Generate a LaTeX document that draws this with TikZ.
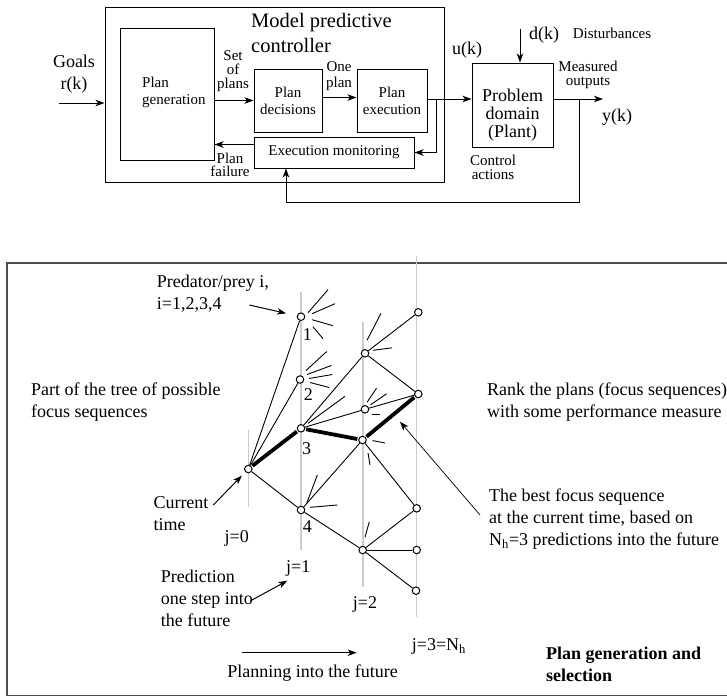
\documentclass[tikz,border=0pt]{standalone}
\usepackage{fontspec}
\setmainfont{Liberation Serif}
\usetikzlibrary{arrows.meta}

\tikzset{
  caja/.style={draw, line width=1pt, inner sep=0pt},
  txtp/.style={font=\fontsize{15}{17}\selectfont, align=center, inner sep=0pt},
  txtm/.style={font=\fontsize{18}{18}\selectfont, align=center, inner sep=0pt},
  txtg/.style={font=\fontsize{18}{22}\selectfont, align=left, inner sep=0pt},
  flecha/.style={line width=1pt, -{Stealth[length=9pt,width=6.5pt,inset=2.5pt]}},
  nodo/.style={circle, draw, line width=1pt, fill=white, minimum size=7.5pt, inner sep=0pt},
  guia/.style={black!20, line width=1.5pt},
  rama/.style={line width=0.9pt},
  mejor/.style={line width=3.8pt, shorten <=1pt, shorten >=1pt},
}

\begin{document}
\begin{tikzpicture}[x=1pt, y=-1pt]
    \useasboundingbox (0,0) rectangle (727,697);

    % controlador predictivo
    \node[caja, minimum width=339pt, minimum height=175pt] (mpc) at (274.5,94.5) {};
    \node[font=\fontsize{20.5}{25}\selectfont, align=left, anchor=west, inner sep=0pt] (titulo) at (251,32.5) {Model predictive\\controller};

    % bloques internos
    \node[caja, minimum width=94pt, minimum height=132pt] (plangen) at (167,94) {};
    \node[txtp, align=left, anchor=west] (plangenlbl) at (142,92) {Plan\\generation};
    \node[caja, txtp, minimum width=68pt, minimum height=63pt] (plandec) at (288,100.5) {Plan\\decisions};
    \node[caja, txtp, minimum width=70pt, minimum height=63pt] (planexec) at (392,100.5) {Plan\\execution};
    \node[caja, txtp, minimum width=160pt, minimum height=31pt] (execmon) at (334,152.5) {Execution monitoring};

    % planta
    \node[caja, minimum width=81pt, minimum height=84pt] (plant) at (512.5,105) {};
    \node[txtm] (plantlbl) at (512.5,115) {Problem\\domain\\(Plant)};

    % leyendas de arriba
    \node[txtm, font=\fontsize{18}{22}\selectfont] (goals) at (74,74) {Goals\\r(k)};
    \node[txtp, font=\fontsize{15}{14}\selectfont] (setplans) at (233,71) {Set\\of\\plans};
    \node[txtp, font=\fontsize{15}{16.5}\selectfont] (oneplan) at (339,76) {One\\plan};
    \node[txtp, font=\fontsize{15}{13.5}\selectfont] (planfail) at (230,165) {Plan\\failure};
    \node[txtm] (uk) at (467,50) {u(k)};
    \node[txtm] (dk) at (544,35) {d(k)};
    \node[txtp] (dist) at (612,33) {Disturbances};
    \node[txtp, font=\fontsize{15}{13.5}\selectfont] (measout) at (588,75) {Measured\\outputs};
    \node[txtm] (yk) at (617,117) {y(k)};
    \node[txtp, font=\fontsize{15}{14}\selectfont] (ctrlact) at (493,167) {Control\\actions};

    % puntos de las flechas
    \coordinate (goalsin) at (59,103);
    \coordinate (ubranch) at (436,99);
    \coordinate (dkin) at (520,29);
    \coordinate (yout) at (603,99);
    \coordinate (ybranch) at (579,99);
    \coordinate (fbin) at (286,202);

    % flechas de arriba
    \draw[flecha] (goalsin) -- (goalsin -| mpc.west);
    \draw[flecha] (plangen.east |- plandec.west) -- (plandec.west);
    \draw[flecha] ([yshift=3pt]plandec.east) -- ([yshift=3pt]planexec.west);
    \draw[flecha] (planexec.east |- ubranch) -- (ubranch -| plant.west);
    \draw[flecha] (ubranch) |- (execmon.east);
    \draw[flecha] ([yshift=8pt]execmon.west) -- ([yshift=8pt]execmon.west -| plangen.east);
    \draw[flecha] (dkin) -- (dkin |- plant.north);
    \draw[flecha] (plant.east |- yout) -- (yout);
    \draw[flecha] (ybranch) |- (fbin) -- (fbin |- execmon.south);

    % marco de abajo
    \draw[black!70, line width=1.2pt] (727,263) -| (7,695.5) -- (727,695.5);

    % lineas grises j=0..3
    \draw[guia] (248.3,430) -- (248.3,507);
    \draw[guia] (301,291.7) -- (301,550);
    \draw[guia] (363,322) -- (363,587);
    \draw[guia] (416.5,256) -- (416.5,617);

    % nodos del arbol
    \node[nodo] (a0) at (248.3,469) {};
    \node[nodo] (b1) at (301,316.7) {};
    \node[nodo] (b2) at (300,379.5) {};
    \node[nodo] (b3) at (301,428.3) {};
    \node[nodo] (b4) at (301,510) {};
    \node[nodo] (c1) at (365,353.3) {};
    \node[nodo] (c2) at (365,409.3) {};
    \node[nodo] (c3) at (362.5,440) {};
    \node[nodo] (c4) at (362.7,550) {};
    \node[nodo] (d1) at (418.3,312.3) {};
    \node[nodo] (d2) at (418.3,394) {};
    \node[nodo] (d3) at (416.7,508.3) {};
    \node[nodo] (d4) at (416.7,550) {};
    \node[nodo] (d5) at (416,590.7) {};

    % ramas
    \draw[rama] (a0) -- (b1);
    \draw[rama] (a0) -- (b2);
    \draw[rama] (a0) -- (b4);
    \draw[rama] (b3) -- (c1);
    \draw[rama] (b3) -- (c2);
    \draw[rama] (b4) -- (c3);
    \draw[rama] (b4) -- (c4);
    \draw[rama] (c1) -- (d1);
    \draw[rama] (c1) -- (d2);
    \draw[rama] (c2) -- (d2);
    \draw[rama] (c3) -- (d3);
    \draw[rama] (c4) -- (d3);
    \draw[rama] (c4) -- (d4);
    \draw[rama] (c4) -- (d5);

    % mejor secuencia
    \draw[mejor] (a0) -- (b3);
    \draw[mejor] (b3) -- (c3);
    \draw[mejor] (c3) -- (d2);

    % ramas cortadas
    \draw[rama] (b1.center) ++(7,-4) -- ++(20,-23);
    \draw[rama] (b1.center) ++(11,-3) -- ++(23,-10);
    \draw[rama] (b1.center) ++(11,3) -- ++(21,6);
    \draw[rama] (b1.center) ++(12,10) -- ++(10,12);
    \draw[rama] (b2.center) ++(6,-9) -- ++(20.7,-19);
    \draw[rama] (b2.center) ++(7,-5) -- ++(24.4,-9);
    \draw[rama] (b2.center) ++(9,-1) -- ++(23.4,-4);
    \draw[rama] (b2.center) ++(10,3) -- ++(19.3,5);
    \draw[rama] (b3.center) ++(7,-5) -- ++(37,-27);
    \draw[rama] (b4.center) ++(5.7,-6.7) -- ++(10.6,-28.3);
    \draw[rama] (b4.center) ++(9,-2.7) -- ++(27.3,-2.3);
    \draw[rama] (c1.center) ++(2,-13) -- ++(14,-27);
    \draw[rama] (c1.center) ++(8,-3) -- ++(19,-2.5);
    \draw[rama] (c2.center) ++(2,-7) -- ++(9.5,-14);
    \draw[rama] (c2.center) ++(5.5,-4.5) -- ++(16,-11);
    \draw[rama] (c2.center) ++(6.5,5) -- ++(8,0);
    \draw[rama] (c3.center) ++(10,0.5) -- ++(12.5,2.5);
    \draw[rama] (c3.center) ++(5.5,13) -- ++(2,12);
    \draw[rama] (c4.center) ++(2.3,-12.7) -- ++(4.3,-15.6);

    % numeros de presa
    \node[txtg] (lbl1) at (307.3,335) {1};
    \node[txtg] (lbl2) at (308.3,395) {2};
    \node[txtg] (lbl3) at (306.7,448.3) {3};
    \node[txtg] (lbl4) at (307.3,526.7) {4};

    % leyendas de abajo
    \node[txtg, anchor=west] (predlbl) at (156.7,294) {Predator/prey i,\\i=1,2,3,4};
    \node[txtg, anchor=west] (parttree) at (31,402) {Part of the tree of possible\\focus sequences};
    \node[txtg, anchor=west] (rank) at (487,401.7) {Rank the plans (focus sequences)\\with some performance measure};
    \node[txtg, anchor=west] (best) at (489,519) {The best focus sequence\\at the current time, based on\\N\textsubscript{h}=3 predictions into the future};
    \node[txtg, anchor=west] (curtime) at (153.3,513.3) {Current\\time};
    \node[txtg] (j0) at (236.7,538.3) {j=0};
    \node[txtg] (j1) at (298.3,568.3) {j=1};
    \node[txtg, anchor=west] (predic) at (160.7,598.3) {Prediction\\one step into\\the future};
    \node[txtg] (j2) at (365,604) {j=2};
    \node[txtg, anchor=west] (j3) at (411.7,646.7) {j=3=N\textsubscript{h}};
    \node[txtg] (planfut) at (312.5,673.3) {Planning into the future};
    \node[txtg, anchor=west, font=\fontsize{18}{22}\selectfont\bfseries] (plansel) at (546,664.7) {Plan generation and\\selection};

    % flechas de abajo
    \coordinate (predA) at (249.3,305);
    \coordinate (curA) at (213.3,505);
    \coordinate (preA) at (250.7,600.7);
    \coordinate (preB) at (287.3,580.7);
    \coordinate (bestA) at (480,515);
    \coordinate (bestB) at (400,421.7);
    \coordinate (futA) at (241.7,652.7);
    \coordinate (futB) at (356.7,652.7);
    \draw[flecha] (predA) -- (b1) [shorten >=11pt];
    \draw[flecha, shorten >=5pt] (curA) -- (a0);
    \draw[flecha] (preA) -- (preB);
    \draw[flecha, line width=0.7pt] (bestA) -- (bestB);
    \draw[flecha] (futA) -- (futB);

\end{tikzpicture}
\end{document}
